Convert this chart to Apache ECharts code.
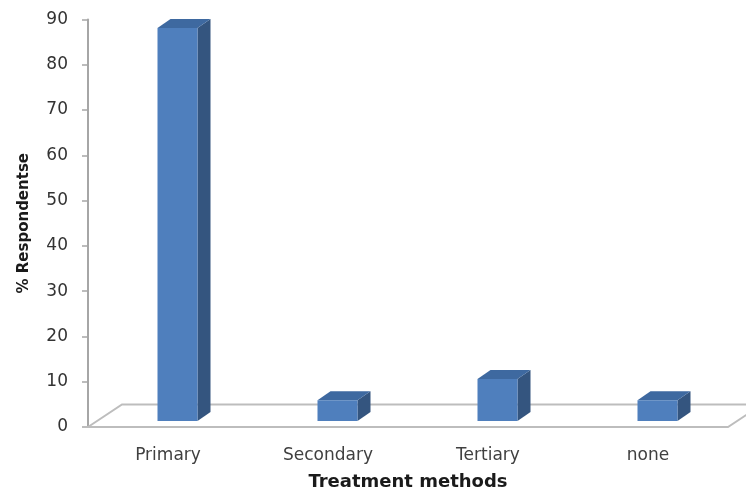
<!DOCTYPE html>
<html>
<head>
<meta charset="utf-8">
<script src="https://cdn.jsdelivr.net/npm/echarts@6/dist/echarts.min.js"></script>
<style>
  html, body { margin: 0; padding: 0; background: #ffffff; }
  #chart { width: 746px; height: 494px; }
</style>
</head>
<body>
<div id="chart"></div>
<script>
// Treatment methods vs share of respondents
const categories = ['Primary', 'Secondary', 'Tertiary', 'none'];
const respondents = [86.8, 4.6, 9.3, 4.6];
const yTicks = { min: 0, max: 90, interval: 10 };

// oblique "3D" look: floor depth and bar depth offsets in px
const FLOOR_DX = 34, FLOOR_DY = -22.5;
const BAR_SHIFT_X = 9.5, BAR_SHIFT_Y = -6;   // bars sit partway into the floor
const BAR_DX = 13, BAR_DY = -9;              // bar's own depth
const FRONT = '#4f7fbd', SIDE = '#34557f', TOP = '#3e69a0';
const FONT = 'DejaVu Sans';

const chart = echarts.init(document.getElementById('chart'), null, { renderer: 'canvas' });

function renderFloor(params, api) {
  const cs = params.coordSys;
  const x0 = cs.x, x1 = cs.x + cs.width, yb = cs.y + cs.height;
  return {
    type: 'polyline',
    shape: {
      points: [
        [x0, yb],
        [x0 + FLOOR_DX, yb + FLOOR_DY],
        [x1 + FLOOR_DX, yb + FLOOR_DY],
        [x1, yb],
        [x0 - 6, yb]
      ]
    },
    style: { stroke: '#bdbdbd', lineWidth: 2, fill: null },
    silent: true
  };
}

function renderBar(params, api) {
  const idx = api.value(0);
  const val = api.value(1);
  const base = api.coord([idx, 0]);
  const top = api.coord([idx, val]);
  const band = api.size([1, 0])[0];
  const w = band * 0.25;
  const xl = base[0] - w / 2 + BAR_SHIFT_X;
  const xr = xl + w;
  const yb = base[1] + BAR_SHIFT_Y;
  const yt = top[1] + BAR_SHIFT_Y;
  return {
    type: 'group',
    children: [
      {
        type: 'polygon',
        shape: { points: [[xr, yb], [xr + BAR_DX, yb + BAR_DY], [xr + BAR_DX, yt + BAR_DY], [xr, yt]] },
        style: { fill: SIDE }
      },
      {
        type: 'polygon',
        shape: { points: [[xl, yt], [xr, yt], [xr + BAR_DX, yt + BAR_DY], [xl + BAR_DX, yt + BAR_DY]] },
        style: { fill: TOP }
      },
      {
        type: 'rect',
        shape: { x: xl, y: yt, width: w, height: yb - yt },
        style: { fill: FRONT }
      }
    ]
  };
}

chart.setOption({
  animation: false,
  backgroundColor: '#ffffff',
  grid: { left: 88, right: 18, top: 19.5, bottom: 67, containLabel: false, outerBoundsMode: 'none' },
  xAxis: {
    type: 'category',
    data: categories,
    axisLine: { show: false },
    axisTick: { show: false },
    axisLabel: { color: '#404040', fontFamily: FONT, fontSize: 17, margin: 20 },
    name: 'Treatment methods',
    nameLocation: 'middle',
    nameGap: 46,
    nameTextStyle: { color: '#1a1a1a', fontFamily: FONT, fontSize: 18, fontWeight: 'bold' }
  },
  yAxis: {
    type: 'value',
    min: yTicks.min,
    max: yTicks.max,
    interval: yTicks.interval,
    splitLine: { show: false },
    axisLine: { show: true, lineStyle: { color: '#a6a6a6', width: 2 } },
    axisTick: { show: true, length: 6, lineStyle: { color: '#a6a6a6', width: 1.5 } },
    axisLabel: { color: '#333333', fontFamily: FONT, fontSize: 17, margin: 20 },
    name: '% Respondentse',
    nameLocation: 'middle',
    nameGap: 56,
    nameTextStyle: { color: '#1a1a1a', fontFamily: FONT, fontSize: 15, fontWeight: 'bold' }
  },
  series: [
    {
      type: 'custom',
      renderItem: renderFloor,
      data: [[0, 0]],
      z: 1,
      silent: true
    },
    {
      type: 'custom',
      renderItem: renderBar,
      data: respondents.map((v, i) => [i, v]),
      encode: { x: 0, y: 1 },
      z: 2
    }
  ]
});
</script>
</body>
</html>
